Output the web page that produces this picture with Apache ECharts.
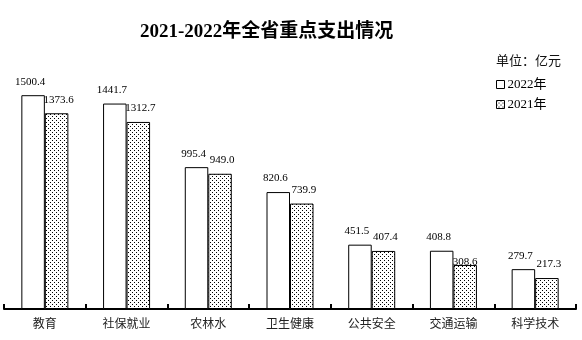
<!DOCTYPE html>
<html>
<head>
<meta charset="utf-8">
<script src="https://cdn.jsdelivr.net/npm/echarts@6/dist/echarts.min.js"></script>
<style>html,body{margin:0;padding:0;background:#fff}#c{width:582px;height:340px}</style>
</head>
<body>
<div id="c"></div>
<script>
const categories = ['教育','社保就业','农林水','卫生健康','公共安全','交通运输','科学技术'];
const values2022 = [1500.4, 1441.7, 995.4, 820.6, 451.5, 408.8, 279.7];
const values2021 = [1373.6, 1312.7, 949.0, 739.9, 407.4, 308.6, 217.3];
const seriesNames = ['2022年','2021年'];

const pc = document.createElement('canvas');
pc.width = 4; pc.height = 4;
const g = pc.getContext('2d');
g.fillStyle = '#fff'; g.fillRect(0,0,4,4);
g.fillStyle = '#000'; g.fillRect(0,0,1,1); g.fillRect(2,2,1,1);

const serif = "'Liberation Serif', 'Noto Sans CJK SC', serif";
const labelBase = {show:true, position:'top', distance:8, fontFamily:serif, fontSize:11, color:'#000'};

const chart = echarts.init(document.getElementById('c'), null, {renderer:'canvas'});
chart.setOption({
  animation:false,
  backgroundColor:'#fff',
  title:[{
    text:'2021-2022年全省重点支出情况',
    left:135, top:18,
    textStyle:{fontFamily:serif, fontSize:19, fontWeight:'bold', color:'#000'}
  },{
    text:'单位：亿元',
    left:491, top:50,
    textStyle:{fontFamily:serif, fontSize:13, fontWeight:'normal', color:'#111'}
  }],
  legend:{
    orient:'vertical', left:491, top:73,
    itemWidth:8, itemHeight:8, itemGap:7,
    icon:'rect',
    itemStyle:{borderWidth:1, borderColor:'#000'},
    textStyle:{fontFamily:serif, fontSize:13, color:'#000', padding:[0,0,0,-2]},
    data:seriesNames
  },
  grid:{left:4, right:6, top:81, bottom:31},
  xAxis:{
    type:'category', data:categories,
    axisLine:{lineStyle:{color:'#000', width:2}},
    axisTick:{show:true, inside:true, length:5, lineStyle:{color:'#000', width:2}},
    axisLabel:{fontFamily:serif, fontSize:12, color:'#222', margin:10}
  },
  yAxis:{type:'value', min:0, max:1600, show:false, splitLine:{show:false}},
  series:[{
    name:seriesNames[0], type:'bar', data:values2022,
    barWidth:23.5, barGap:'0%',
    itemStyle:{color:'#fff', borderColor:'#000', borderWidth:1},
    label:Object.assign({}, labelBase, {offset:[-3,0]})
  },{
    name:seriesNames[1], type:'bar',
    data:values2021.map((v,i)=> i===5 ? {value:v, label:{offset:[0,11]}} : v),
    barWidth:23.5, barGap:'0%',
    itemStyle:{color:{image:pc, repeat:'repeat'}, borderColor:'#000', borderWidth:1},
    label:Object.assign({}, labelBase, {offset:[2,0], formatter:p=>p.value.toFixed(1)})
  }]
});
</script>
</body>
</html>
